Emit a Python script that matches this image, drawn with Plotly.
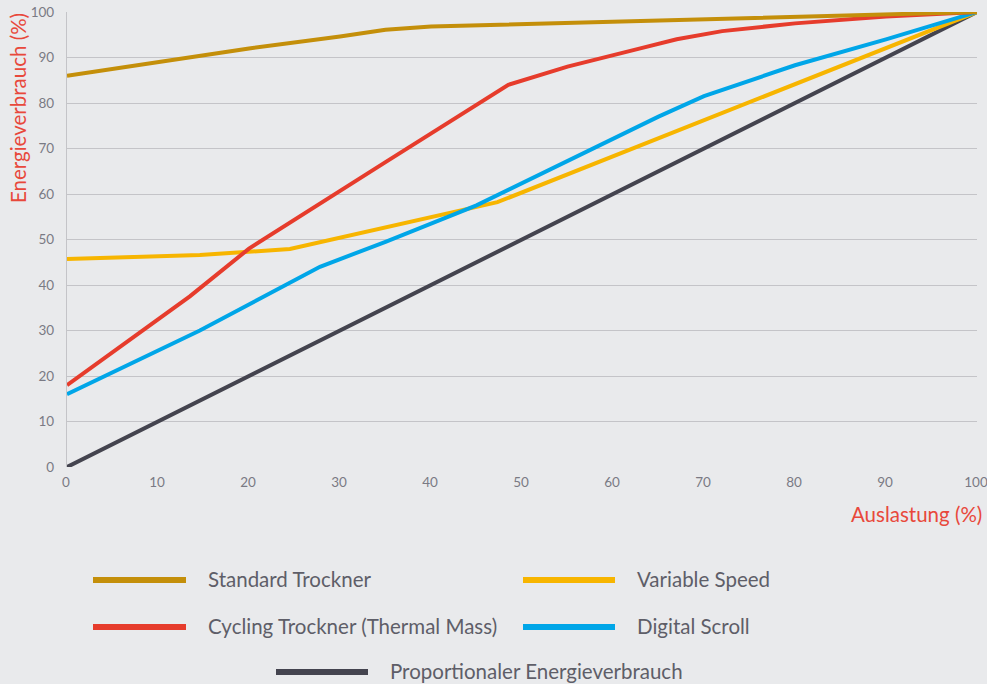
import plotly.graph_objects as go

# ---- data ----
x_ticks = [0, 10, 20, 30, 40, 50, 60, 70, 80, 90, 100]
y_ticks = [0, 10, 20, 30, 40, 50, 60, 70, 80, 90, 100]

std_x = [0, 10, 20, 30, 35, 40, 50, 60, 70, 80, 90, 100]
std_y = [86, 89, 92, 94.6, 96.1, 96.8, 97.3, 97.8, 98.3, 98.8, 99.3, 100]

cyc_x = [0, 13.5, 20, 28, 35, 48.5, 55, 63, 67, 72, 80, 90, 100]
cyc_y = [18, 37.5, 48, 58, 67, 84, 88, 92, 94, 95.8, 97.5, 99, 100]

var_x = [0, 14.6, 24.5, 47.3, 100]
var_y = [45.7, 46.6, 47.9, 58.2, 100]

dig_x = [0, 14.6, 27.8, 35, 45, 53, 65, 70, 80, 90, 100]
dig_y = [16, 30, 44, 49.5, 57.5, 65.3, 77, 81.5, 88.3, 94, 100]

prop_x = [0, 100]
prop_y = [0, 100]

names = ["Standard Trockner", "Variable Speed", "Cycling Trockner (Thermal Mass)",
         "Digital Scroll", "Proportionaler Energieverbrauch"]
colors = ["#C48F0A", "#F7B500", "#E63C2C", "#00A6E8", "#44444F"]

series = [(std_x, std_y), (var_x, var_y), (cyc_x, cyc_y), (dig_x, dig_y), (prop_x, prop_y)]
draw_order = [4, 1, 3, 2, 0]

fig = go.Figure()
for i in draw_order:
    xs, ys = series[i]
    fig.add_trace(go.Scatter(x=xs, y=ys, mode="lines", name=names[i],
                             line=dict(color=colors[i], width=4),
                             cliponaxis=False, showlegend=False))

FONT = "Lato"
fig.update_layout(
    width=987, height=684,
    margin=dict(l=67, r=10, t=12, b=217, autoexpand=False),
    paper_bgcolor="#E9EAEC",
    plot_bgcolor="rgba(0,0,0,0)",
    font=dict(family=FONT, color="#7A7A84", size=13.5),
    xaxis=dict(range=[0, 100], tickvals=x_ticks, ticktext=[str(v) for v in x_ticks],
               showgrid=False, zeroline=False, showline=False, ticks="",
               ticklabelstandoff=5, ticklabelshift=-1, ticklabeloverflow="allow",
               automargin=False, fixedrange=True),
    yaxis=dict(range=[0, 100], tickvals=y_ticks, ticktext=[str(v) for v in y_ticks],
               showgrid=True, gridcolor="#C4C4C8", gridwidth=1.3, zeroline=False,
               showline=True, linecolor="#C4C4C8", linewidth=1.3, ticks="",
               ticklabelstandoff=9, automargin=False, fixedrange=True),
)

pw, ph = 987 - 67 - 10, 684 - 12 - 217
def px(x):
    return (x - 67) / pw
def py(y):
    return (684 - 217 - y) / ph

# soft vertical background gradient (decorative): lighter at top
for k in range(1, 17):
    fig.add_shape(type="rect", xref="paper", yref="paper", x0=px(0), x1=px(987),
                  y0=py(k * 43), y1=py(0), fillcolor="white", opacity=0.035,
                  line=dict(width=0), layer="below")

# axis titles
fig.add_annotation(text="Energieverbrauch (%)", xref="paper", yref="paper",
                   x=px(18), y=py(108), xanchor="center", yanchor="middle", textangle=-90,
                   showarrow=False, font=dict(family=FONT, size=20.5, color="#E8483B"))
fig.add_annotation(text="Auslastung (%)", xref="paper", yref="paper",
                   x=px(984), y=py(514), xanchor="right", yanchor="middle",
                   showarrow=False, font=dict(family=FONT, size=20.5, color="#E8483B"))

# custom legend
legend_pos = [(93, 186, 206, 579), (523, 615, 635, 579), (93, 186, 206, 626),
              (523, 615, 635, 626), (276, 368, 388, 671)]
for i, (x0, x1, tx, yy) in enumerate(legend_pos):
    fig.add_shape(type="line", xref="paper", yref="paper",
                  x0=px(x0), x1=px(x1), y0=py(yy + 1), y1=py(yy + 1),
                  line=dict(color=colors[i], width=6))
    fig.add_annotation(text=names[i], xref="paper", yref="paper",
                       x=px(tx), y=py(yy), xanchor="left", yanchor="middle",
                       showarrow=False, font=dict(family=FONT, size=20.5, color="#5E5E68"))

fig.write_html("out.html")
